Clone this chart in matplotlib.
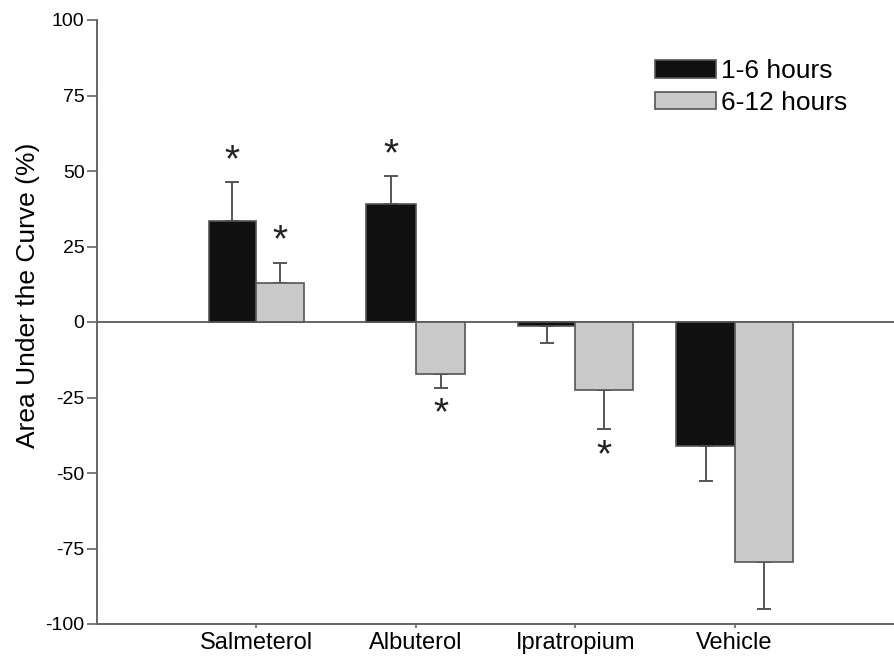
import numpy as np
import matplotlib
matplotlib.use('Agg')
import matplotlib.pyplot as plt
from matplotlib.patches import Patch

plt.rcParams['font.family'] = ['Liberation Sans', 'DejaVu Sans']
plt.rcParams['axes.unicode_minus'] = False

# data
drugs = ['Salmeterol', 'Albuterol', 'Ipratropium', 'Vehicle']
early = [33.3, 39.0, -1.2, -41.0]      # 1-6 hours
late = [12.8, -17.3, -22.6, -79.5]     # 6-12 hours
early_err = [13.0, 9.3, 5.8, 11.5]
late_err = [6.8, 4.4, 12.8, 15.5]
early_star = [True, True, False, False]
late_star = [True, True, True, False]

# bar widths drift a bit across the scanned figure
bar_w = [0.30, 0.31, 0.36, 0.365]

fig = plt.figure(figsize=(8.94, 6.56), dpi=100)
ax = fig.add_axes([97 / 894, 1 - 624 / 656, 1 - 97 / 894, (624 - 20) / 656])

x = np.arange(len(drugs))
edge = '#555555'
black = '#111111'
grey = '#c9c9c9'

ax.axhline(0, color='#666666', lw=1.4, zorder=1)

for i in range(len(drugs)):
    w = bar_w[i]
    ax.bar(x[i] - w, early[i], w, align='edge', color=black, edgecolor=edge, lw=1.2, zorder=2)
    ax.bar(x[i], late[i], w, align='edge', color=grey, edgecolor=edge, lw=1.2, zorder=2)
    # one-sided error bars, away from zero
    e_lo = [[0], [early_err[i]]] if early[i] >= 0 else [[early_err[i]], [0]]
    l_lo = [[0], [late_err[i]]] if late[i] >= 0 else [[late_err[i]], [0]]
    ax.errorbar(x[i] - w / 2, early[i], yerr=e_lo, fmt='none', ecolor=edge,
                elinewidth=1.4, capsize=5, capthick=1.4, zorder=1.5)
    ax.errorbar(x[i] + w / 2, late[i], yerr=l_lo, fmt='none', ecolor=edge,
                elinewidth=1.4, capsize=5, capthick=1.4, zorder=1.5)
    if early_star[i]:
        yy = early[i] + early_err[i] + 7 if early[i] >= 0 else early[i] - early_err[i] - 9
        ax.text(x[i] - w / 2, yy, '*', ha='center', va='center', fontsize=28, color='#222222')
    if late_star[i]:
        yy = late[i] + late_err[i] + 7 if late[i] >= 0 else late[i] - late_err[i] - 9
        ax.text(x[i] + w / 2, yy, '*', ha='center', va='center', fontsize=28, color='#222222')

ax.set_xlim(-1, 4)
ax.set_ylim(-100, 100)
ax.set_yticks(np.arange(-100, 101, 25))
ax.set_xticks(x)
ax.set_xticklabels(drugs, fontsize=17)
ax.tick_params(axis='y', labelsize=14, length=7, width=1.2, color='#666666', pad=2)
ax.tick_params(axis='x', length=3, width=1.2, color='#666666', pad=3)

for s in ['top', 'right']:
    ax.spines[s].set_visible(False)
for s in ['left', 'bottom']:
    ax.spines[s].set_color('#666666')
    ax.spines[s].set_linewidth(1.4)

ax.set_ylabel('Area Under the Curve (%)', fontsize=19)
ax.yaxis.set_label_coords(-0.072, 0.545)

handles = [Patch(facecolor=black, edgecolor=edge, lw=1.2, label='1-6 hours'),
           Patch(facecolor=grey, edgecolor=edge, lw=1.2, label='6-12 hours')]
ax.legend(handles=handles, loc='upper left', bbox_to_anchor=(0.70, 0.935), frameon=False,
          fontsize=19, handlelength=2.3, handleheight=0.62, handletextpad=0.2,
          labelspacing=0.3, borderpad=0, borderaxespad=0)

fig.savefig('out.png', dpi=100)
